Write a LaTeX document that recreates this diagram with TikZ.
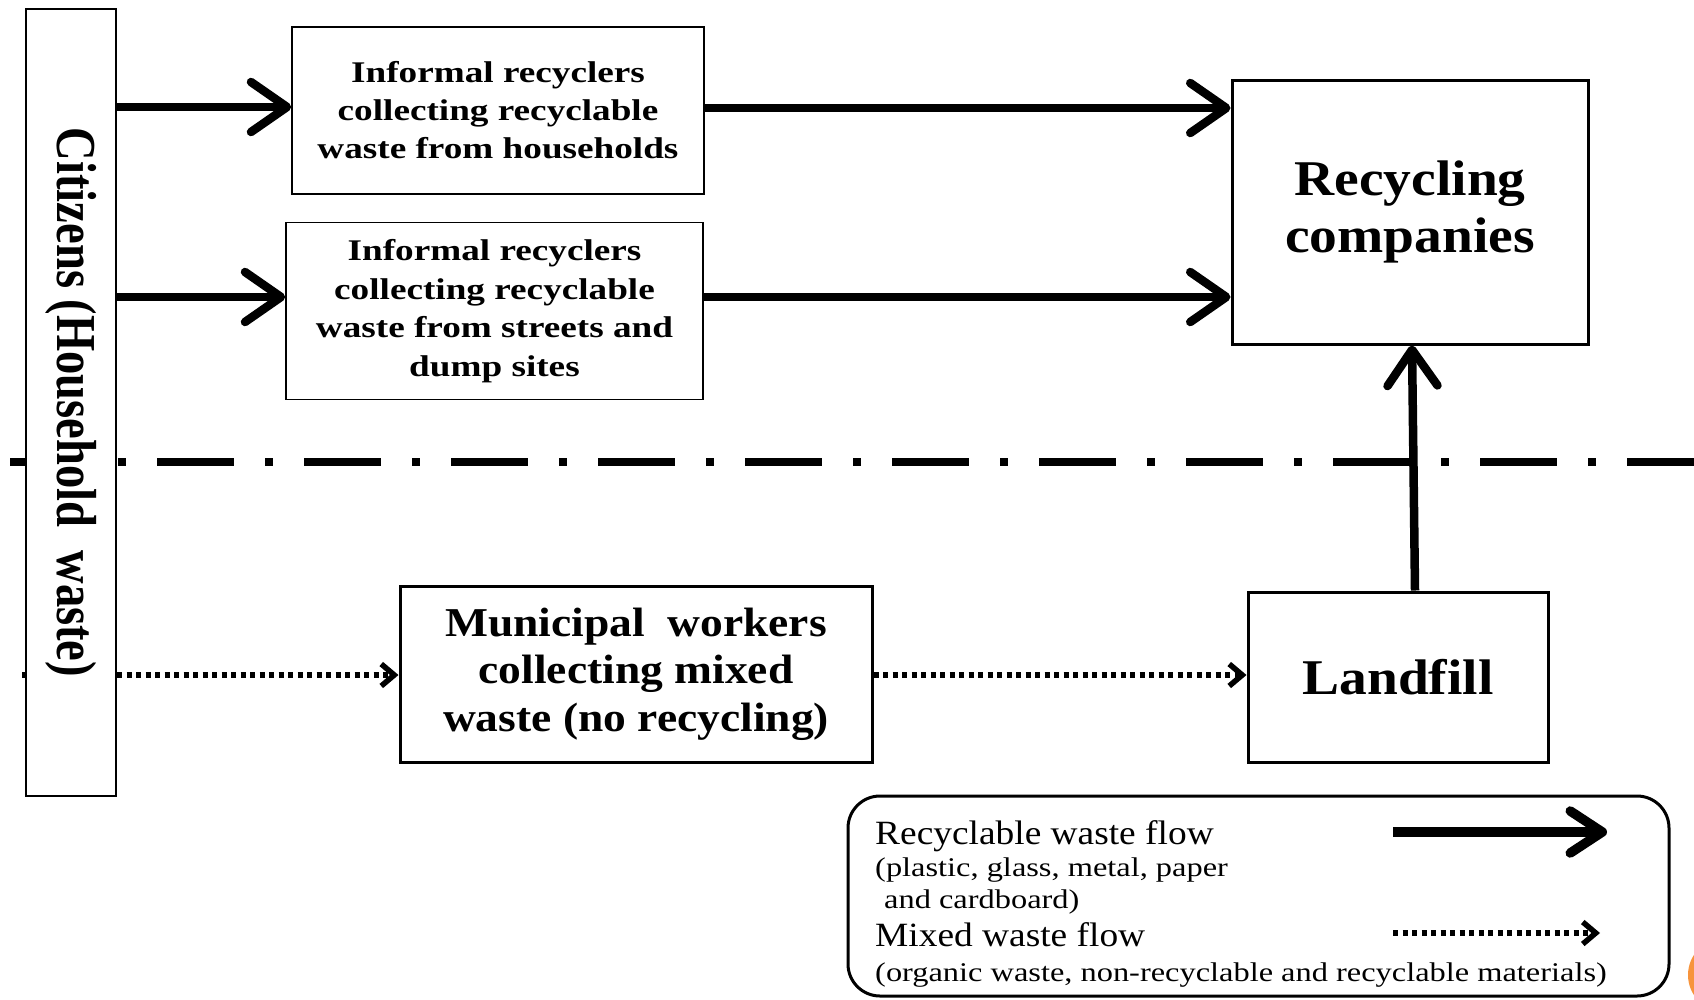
\documentclass[tikz,border=0pt]{standalone}
\usepackage{fontspec}
\setmainfont{Liberation Serif}
\newfontfamily\fontA[FakeStretch=1.24]{Liberation Serif}
\newfontfamily\fontB[FakeStretch=1.11]{Liberation Serif}
\newfontfamily\fontC[FakeStretch=1.1]{Liberation Serif}
\newfontfamily\fontD[FakeStretch=1.2]{Liberation Serif}
\usetikzlibrary{arrows.meta}
\pgfdeclarelayer{background}
\pgfsetlayers{background,main}
\definecolor{slideorange}{RGB}{247,148,60}
\tikzset{
  thinbox/.style={draw, line width=1.5pt, fill=white, align=center, inner sep=0pt},
  thickbox/.style={draw, line width=3pt, fill=white, align=center, inner sep=0pt},
  recflow/.style={line width=8.5pt, -{Straight Barb[length=36pt,width=50pt,round]}},
  legrec/.style={line width=9.5pt, -{Straight Barb[length=32pt,width=42pt,round]}},
  mixflow/.style={line width=5.5pt, dash pattern=on 5pt off 4.5pt,
    -{Straight Barb[length=13pt,width=22pt]}},
  boundary/.style={line width=8pt, dash pattern=on 77pt off 31pt on 8pt off 31pt},
  legtext/.style={anchor=base west, inner sep=0pt}
}
\begin{document}
\begin{tikzpicture}[x=1pt,y=-1pt]
\useasboundingbox (0,0) rectangle (1694,999);

% nodes
\node[thinbox, rotate=-90, minimum width=787pt, minimum height=90pt,
      font=\bfseries\fontsize{47}{47}\selectfont] (cit) at (71,402.5)
      {\scalebox{0.99}[1.2]{Citizens (Household~ waste)}};
\node[thinbox, minimum width=412pt, minimum height=167pt,
      font=\fontA\bfseries\fontsize{30}{38}\selectfont] (hh) at (498,110.5)
      {Informal recyclers\\collecting recyclable\\waste from households};
\node[thinbox, minimum width=417pt, minimum height=177pt,
      font=\fontA\bfseries\fontsize{30}{38.5}\selectfont] (st) at (494.5,311)
      {Informal recyclers\\collecting recyclable\\waste from streets and\\dump sites};
\node[thickbox, minimum width=356pt, minimum height=264pt,
      font=\fontB\bfseries\fontsize{50}{57}\selectfont] (rc) at (1410,212)
      {Recycling\\companies};
\node[thickbox, minimum width=472pt, minimum height=176pt,
      font=\fontB\bfseries\fontsize{41}{47.5}\selectfont] (mw) at (636,674)
      {Municipal~ workers\\collecting mixed\\waste (no recycling)};
\node[thickbox, minimum width=300pt, minimum height=170pt,
      font=\fontB\bfseries\fontsize{50}{57}\selectfont] (lf) at (1398,677)
      {Landfill};

% lines lying beneath the boxes
\coordinate (dl) at (10,462);
\coordinate (dr) at (1694,462);
\coordinate (ds) at (22,675);
\begin{pgfonlayer}{background}
\fill[white] (0,0) rectangle (1694,999);
\draw[boundary] (dl) -- (dr);
\draw[mixflow] (ds) -- (mw.west |- ds);
\end{pgfonlayer}

% flows
\draw[recflow] (cit.north |- 0,107) -- (hh.west |- 0,107);
\draw[recflow] ([yshift=14pt]cit.north |- st.west) -- ([yshift=14pt]st.west);
\draw[recflow] (hh.east |- 0,108) -- (rc.west |- 0,108);
\draw[recflow] ([yshift=14pt]st.east) -- ([yshift=14pt]rc.west |- st.east);
\draw[recflow] ([xshift=17pt]lf.north) -- ([xshift=2pt]rc.south);
\draw[mixflow] (mw.east |- ds) -- (lf.west |- ds);

% legend
\draw[line width=3pt, rounded corners=32pt] (848,796) rectangle (1669,996);
\node[legtext, font=\fontC\fontsize{34}{34}\selectfont] (l1) at (875,844) {Recyclable waste flow};
\node[legtext, font=\fontD\fontsize{27}{27}\selectfont] (l2) at (875,876) {(plastic, glass, metal, paper};
\node[legtext, font=\fontD\fontsize{27}{27}\selectfont] (l3) at (884,908) {and cardboard)};
\node[legtext, font=\fontC\fontsize{34}{34}\selectfont] (l4) at (875,946) {Mixed waste flow};
\node[legtext, font=\fontD\fontsize{27}{27}\selectfont] (l5) at (875,981) {(organic waste, non-recyclable and recyclable materials)};
\coordinate (ra) at (1393,832);
\coordinate (rb) at (1607,832);
\coordinate (ma) at (1393,933);
\coordinate (mb) at (1600,933);
\draw[legrec] (ra) -- (rb);
\draw[mixflow] (ma) -- (mb);

% slide decoration
\begin{scope}
\clip (0,0) rectangle (1694,999);
\fill[slideorange] (1725,975) circle (37pt);
\end{scope}
\end{tikzpicture}
\end{document}
